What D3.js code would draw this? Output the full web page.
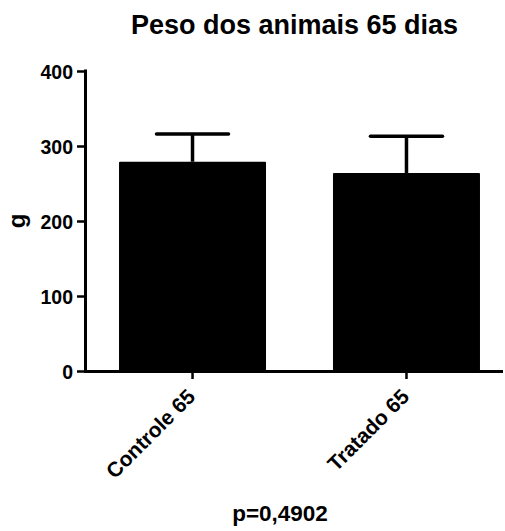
<!DOCTYPE html>
<html><head><meta charset="utf-8">
<script src="https://d3js.org/d3.v7.min.js"></script>
<style>body{margin:0;background:#fff}svg{display:block}text{font-family:"Liberation Sans",Arial,sans-serif;font-weight:bold;fill:#000}</style>
</head><body><svg id="c" width="505" height="531"></svg>
<script>
const categories = ["Controle 65", "Tratado 65"];
const means = [279, 264];
const errors = [37, 49];
const yTicks = [0, 100, 200, 300, 400];
const title = "Peso dos animais 65 dias";
const yLabel = "g";
const note = "p=0,4902";

const svg = d3.select("#c");
const x = d3.scaleBand().domain(categories).range([85, 514]).paddingInner(0.313).paddingOuter(0.159);
const y = d3.scaleLinear().domain([0, 400]).range([371, 71]);

// bars
svg.selectAll("rect.bar").data(categories).join("rect")
  .attr("x", d => x(d)).attr("width", x.bandwidth())
  .attr("y", (d,i) => y(means[i])).attr("height", (d,i) => y(0) - y(means[i]))
  .attr("fill", "#000").attr("rx", 1);

// error bars
const cx = d => x(d) + x.bandwidth()/2;
svg.selectAll("line.eb").data(categories).join("line")
  .attr("x1", cx).attr("x2", cx)
  .attr("y1", (d,i) => y(means[i])).attr("y2", (d,i) => y(means[i] + errors[i]))
  .attr("stroke", "#000").attr("stroke-width", 3.5);
svg.selectAll("line.cap").data(categories).join("line")
  .attr("x1", d => cx(d) - 36).attr("x2", d => cx(d) + 36)
  .attr("y1", (d,i) => y(means[i] + errors[i])).attr("y2", (d,i) => y(means[i] + errors[i]))
  .attr("stroke", "#000").attr("stroke-width", 3.5).attr("stroke-linecap", "round");

// y axis
const ya = svg.append("g").attr("transform", "translate(85,0)")
  .call(d3.axisLeft(y).tickValues(yTicks).tickSize(8).tickPadding(4).tickSizeOuter(0));
ya.select(".domain").attr("stroke-width", 3).attr("stroke", "#000").attr("d", "M0.5,69.5V372.5");
ya.selectAll(".tick line").attr("stroke-width", 2.5).attr("stroke", "#000");
ya.selectAll(".tick text").attr("font-size", 19.5).attr("font-family", null).attr("dy", "0.36em");

// x axis
const xa = svg.append("g").attr("transform", "translate(0,371)")
  .call(d3.axisBottom(x).tickSize(8).tickSizeOuter(0).tickFormat(() => ""));
xa.select(".domain").attr("stroke-width", 3).attr("stroke", "#000").attr("d", "M84,0.5H503");
xa.selectAll(".tick line").attr("stroke-width", 2.5).attr("stroke", "#000");

// x labels rotated
svg.selectAll("text.xl").data(categories).join("text")
  .attr("class", "xl")
  .attr("transform", d => `translate(${cx(d)+4},${398}) rotate(-45)`)
  .attr("text-anchor", "end").attr("font-size", 21).text(d => d);

svg.append("text").attr("x", 294.5).attr("y", 34).attr("text-anchor", "middle")
  .attr("font-size", 27).text(title);
svg.append("text").attr("transform", "translate(25,221) rotate(-90)").attr("text-anchor", "middle")
  .attr("font-size", 24).text(yLabel);
svg.append("text").attr("x", 280).attr("y", 521).attr("text-anchor", "middle")
  .attr("font-size", 22.5).text(note);
</script></body></html>
